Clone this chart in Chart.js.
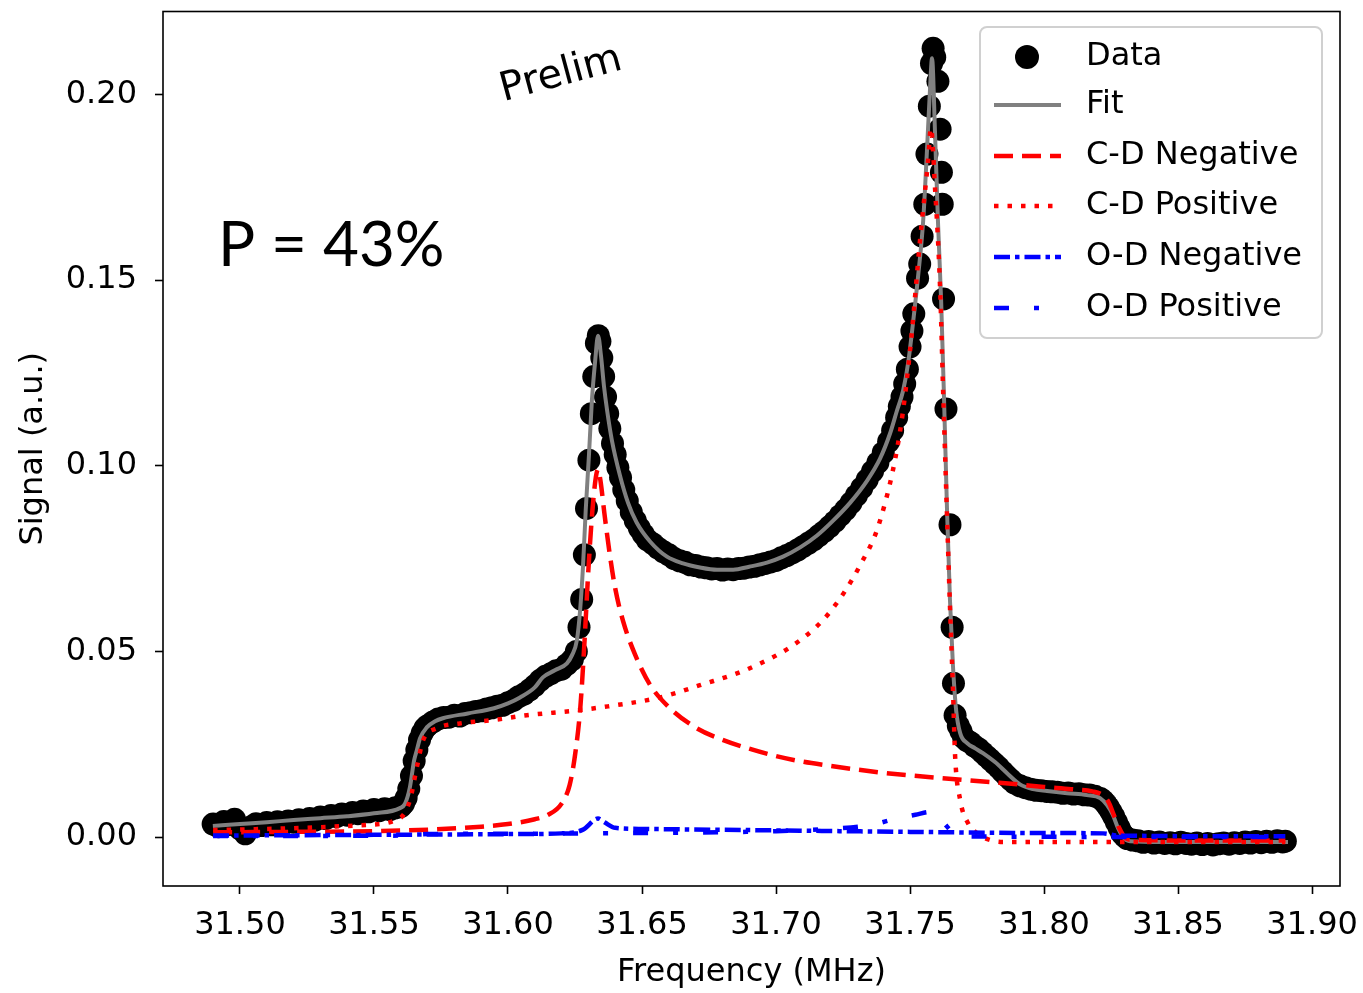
<!DOCTYPE html>
<html><head><meta charset="utf-8">
<script src="https://cdn.jsdelivr.net/npm/chart.js@4.4.1/dist/chart.umd.min.js"></script>
<style>html,body{margin:0;padding:0;background:#fff}#wrap{width:1363px;height:993px;position:relative}</style>
</head><body><div id="wrap"><canvas id="c"></canvas></div>
<script>
// ---- tick labels ----
const xTicks = [31.50, 31.55, 31.60, 31.65, 31.70, 31.75, 31.80, 31.85, 31.90];
const yTicks = [0.00, 0.05, 0.10, 0.15, 0.20];

// ---- series: [frequency (MHz), signal (a.u.)] ----
const dataPoints = [
[31.490,0.0035],[31.492,0.0028],[31.494,0.0042],[31.496,0.0034],[31.498,0.0048],[31.500,0.0022],[31.502,0.0009],[31.504,0.0027],[31.506,0.0036],[31.508,0.0031],
[31.510,0.0039],[31.512,0.0033],[31.514,0.0041],[31.516,0.0036],[31.518,0.0043],[31.520,0.0040],[31.522,0.0047],[31.524,0.0042],[31.526,0.0050],[31.528,0.0046],
[31.530,0.0054],[31.532,0.0050],[31.534,0.0058],[31.536,0.0055],[31.538,0.0062],[31.540,0.0059],[31.542,0.0066],[31.544,0.0063],[31.546,0.0070],[31.548,0.0068],
[31.550,0.0074],[31.552,0.0071],[31.554,0.0076],[31.556,0.0074],[31.558,0.0079],[31.560,0.0082],
[31.561,0.0090],[31.562,0.0105],[31.563,0.0130],[31.564,0.0165],[31.565,0.0205],[31.566,0.0235],[31.567,0.0262],[31.568,0.0280],[31.569,0.0293],[31.570,0.0300],[31.572,0.0310],
[31.574,0.0318],[31.576,0.0322],[31.578,0.0323],[31.580,0.0328],[31.582,0.0326],[31.584,0.0333],[31.586,0.0335],[31.588,0.0338],[31.590,0.0340],[31.592,0.0345],
[31.594,0.0348],[31.596,0.0352],[31.598,0.0355],[31.600,0.0362],[31.602,0.0368],[31.604,0.0378],[31.606,0.0385],[31.608,0.0396],[31.610,0.0408],[31.612,0.0422],
[31.614,0.0433],[31.616,0.0440],[31.618,0.0448],[31.620,0.0452],[31.622,0.0465],[31.624,0.0478],
[31.6255,0.0500],[31.6265,0.0565],[31.6275,0.0640],[31.6285,0.0760],[31.6293,0.0885],[31.6302,0.1015],[31.6311,0.1140],[31.6320,0.1240],[31.6330,0.1330],[31.6337,0.1350],
[31.6343,0.1335],[31.6350,0.1290],[31.6357,0.1240],[31.6364,0.1185],[31.6372,0.1140],[31.6380,0.1100],[31.6390,0.1060],[31.6400,0.1030],[31.6410,0.0995],[31.6420,0.0968],
[31.6432,0.0935],[31.6445,0.0905],[31.6460,0.0875],[31.6475,0.0852],[31.6490,0.0832],[31.6505,0.0815],
[31.652,0.0800],[31.654,0.0790],[31.656,0.0778],[31.658,0.0768],[31.660,0.0760],[31.662,0.0750],[31.664,0.0744],[31.666,0.0740],[31.668,0.0733],[31.670,0.0731],
[31.672,0.0727],[31.674,0.0725],[31.676,0.0722],[31.678,0.0723],[31.680,0.0719],[31.682,0.0722],[31.684,0.0720],[31.686,0.0723],[31.688,0.0724],[31.690,0.0727],
[31.692,0.0729],[31.694,0.0733],[31.696,0.0737],[31.698,0.0741],[31.700,0.0745],[31.702,0.0752],[31.704,0.0758],[31.706,0.0765],[31.708,0.0773],[31.710,0.0782],
[31.712,0.0791],[31.714,0.0800],[31.716,0.0812],[31.718,0.0823],[31.720,0.0836],[31.722,0.0850],[31.724,0.0866],[31.726,0.0882],[31.728,0.0900],[31.730,0.0920],
[31.732,0.0940],[31.734,0.0962],[31.736,0.0985],[31.738,0.1008],[31.740,0.1035],[31.742,0.1065],[31.7435,0.1095],[31.745,0.1130],[31.746,0.1160],[31.747,0.1185],
[31.748,0.1220],[31.749,0.1260],
[31.7500,0.1320],[31.7507,0.1363],[31.7514,0.1409],[31.7528,0.1505],[31.7536,0.1543],[31.7545,0.1618],[31.7555,0.1704],[31.7563,0.1839],[31.7572,0.1968],[31.7580,0.2083],
[31.7586,0.2124],[31.7592,0.2100],[31.7604,0.2035],[31.7612,0.1906],[31.7617,0.1790],[31.7620,0.1704],[31.7625,0.1449],[31.7634,0.1153],[31.7649,0.0841],[31.7657,0.0565],
[31.7662,0.0414],[31.7668,0.0328],
[31.7680,0.0300],[31.7690,0.0285],[31.7700,0.0268],[31.7712,0.0260],[31.7725,0.0255],[31.7740,0.0245],[31.7755,0.0238],[31.7770,0.0228],[31.7785,0.0218],[31.7800,0.0208],
[31.7815,0.0198],[31.7830,0.0188],[31.7845,0.0176],[31.7860,0.0165],[31.7875,0.0155],[31.789,0.0145],[31.791,0.0138],[31.793,0.0133],[31.795,0.0129],[31.797,0.0126],
[31.799,0.0125],[31.801,0.0123],[31.803,0.0122],[31.805,0.0121],[31.807,0.0118],[31.809,0.0119],[31.811,0.0116],[31.813,0.0117],[31.815,0.0114],[31.817,0.0113],
[31.819,0.0110],[31.821,0.0104],[31.822,0.0098],[31.823,0.0090],[31.824,0.0080],[31.825,0.0068],[31.826,0.0055],[31.827,0.0040],[31.828,0.0025],[31.829,0.0010],
[31.830,0.0002],[31.831,-0.0004],[31.833,-0.0008],
[31.835,-0.0010],[31.837,-0.0014],[31.839,-0.0012],[31.841,-0.0016],[31.843,-0.0013],[31.845,-0.0017],[31.847,-0.0015],[31.849,-0.0018],[31.851,-0.0014],[31.853,-0.0017],
[31.855,-0.0019],[31.857,-0.0016],[31.859,-0.0020],[31.861,-0.0017],[31.863,-0.0021],[31.865,-0.0018],[31.867,-0.0016],[31.869,-0.0019],[31.871,-0.0015],[31.873,-0.0017],
[31.875,-0.0013],[31.877,-0.0016],[31.879,-0.0012],[31.881,-0.0015],[31.883,-0.0011],[31.885,-0.0014],[31.887,-0.0010],[31.889,-0.0013],[31.890,-0.0011]
];

const fitPoints = [
[31.4899,0.0030],[31.500,0.0035],[31.510,0.0040],[31.520,0.0046],[31.530,0.0051],[31.540,0.0056],[31.550,0.0064],[31.5597,0.0078],[31.5616,0.0090],[31.5634,0.0134],
[31.565,0.0207],[31.566,0.0234],[31.5672,0.0266],[31.5698,0.0296],[31.5728,0.0312],[31.5757,0.0320],[31.585,0.0333],[31.5948,0.0347],[31.600,0.0360],[31.6045,0.0376],
[31.610,0.0403],[31.613,0.0430],[31.6175,0.0449],[31.622,0.0468],[31.6239,0.0490],[31.6257,0.0530],[31.6269,0.0610],[31.628,0.0730],[31.629,0.0880],[31.6302,0.1027],
[31.6313,0.1175],[31.6325,0.1280],[31.6336,0.1350],[31.6347,0.1296],[31.6358,0.1215],[31.637,0.1148],[31.6388,0.1067],[31.6418,0.0973],[31.6448,0.0900],[31.648,0.0847],
[31.653,0.0796],[31.6593,0.0755],[31.6653,0.0737],[31.6716,0.0726],[31.678,0.0720],[31.684,0.0720],[31.690,0.0728],[31.6966,0.0739],[31.7026,0.0755],[31.709,0.0780],
[31.7153,0.0812],[31.7213,0.0852],[31.7276,0.0900],[31.734,0.0960],[31.7388,0.1019],[31.7425,0.1086],[31.7451,0.1148],[31.7474,0.1202],[31.7493,0.1277],[31.7511,0.1384],
[31.753,0.1510],[31.7549,0.1660],[31.7563,0.1847],[31.7575,0.2022],[31.7582,0.2097],[31.7593,0.1900],[31.7604,0.1660],[31.7616,0.1444],[31.7627,0.1175],[31.7638,0.0879],
[31.7649,0.0637],[31.766,0.0462],[31.7672,0.0341],[31.7687,0.0280],[31.7713,0.0253],[31.7743,0.0239],[31.7772,0.0226],[31.7817,0.0202],[31.7862,0.0172],[31.791,0.0142],
[31.7959,0.0129],[31.8011,0.0124],[31.8086,0.0118],[31.816,0.0113],[31.8209,0.0105],[31.8235,0.0086],[31.8257,0.0059],[31.8276,0.0024],[31.8295,0.0000],[31.8321,-0.0011],
[31.8433,-0.0013],[31.8582,-0.0013],[31.8769,-0.0013],[31.891,-0.0013]
];

const cdNegativePoints = [
[31.490,0.0013],[31.520,0.0014],[31.550,0.0016],[31.570,0.0020],[31.590,0.0028],[31.600,0.0035],[31.610,0.0048],[31.615,0.0060],[31.620,0.0090],[31.623,0.0140],
[31.625,0.0220],[31.627,0.0350],[31.6285,0.0520],[31.630,0.0720],[31.6315,0.0880],[31.6328,0.0970],[31.6336,0.0990],[31.6345,0.0960],[31.636,0.0870],[31.638,0.0760],
[31.640,0.0670],[31.643,0.0580],[31.6475,0.0490],[31.653,0.0410],[31.660,0.0350],[31.670,0.0295],[31.680,0.0262],[31.690,0.0238],[31.700,0.0218],[31.710,0.0203],
[31.720,0.0192],[31.730,0.0182],[31.740,0.0173],[31.750,0.0166],[31.760,0.0160],[31.770,0.0154],[31.780,0.0148],[31.790,0.0142],[31.800,0.0135],[31.810,0.0129],
[31.818,0.0123],[31.822,0.0112],[31.824,0.0095],[31.826,0.0060],[31.828,0.0025],[31.830,0.0000],[31.832,-0.0007],[31.850,-0.0009],[31.870,-0.0009],[31.890,-0.0009]
];

const cdPositivePoints = [
[31.490,0.0019],[31.520,0.0024],[31.545,0.0032],[31.5597,0.0051],[31.5634,0.0099],[31.566,0.0188],[31.5683,0.0260],[31.5735,0.0293],[31.582,0.0306],[31.5944,0.0315],
[31.607,0.0328],[31.6257,0.0341],[31.6373,0.0352],[31.6567,0.0376],[31.6716,0.0409],[31.690,0.0454],[31.709,0.0530],[31.720,0.0605],[31.7313,0.0731],[31.7388,0.0852],
[31.7463,0.1094],[31.7500,0.1310],[31.7537,0.1605],[31.7567,0.1820],[31.7578,0.1909],[31.7593,0.1750],[31.7612,0.1480],[31.7623,0.1210],[31.7649,0.0620],[31.7660,0.0400],
[31.7668,0.0220],[31.7687,0.0100],[31.7716,0.0038],[31.7761,0.0005],[31.7799,-0.0008],[31.785,-0.0013],[31.850,-0.0013],[31.890,-0.0013]
];

const odNegativePoints = [
[31.490,0.0004],[31.550,0.0006],[31.600,0.0008],[31.620,0.0010],[31.628,0.0020],[31.6336,0.0050],[31.636,0.0040],[31.640,0.0025],[31.650,0.0022],[31.700,0.0018],
[31.750,0.0014],[31.800,0.0011],[31.822,0.0010],[31.828,0.0004],[31.890,0.0002]
];

const odPositivePoints = [
[31.490,0.0003],[31.560,0.0004],[31.570,0.0008],[31.600,0.0009],[31.650,0.0011],[31.700,0.0016],[31.720,0.0022],[31.735,0.0032],[31.745,0.0050],[31.752,0.0060],
[31.7575,0.0068],[31.760,0.0062],[31.763,0.0035],[31.766,0.0012],[31.770,0.0002],[31.890,0.0000]
];

const toXY = arr => arr.map(p => ({x: p[0], y: p[1]}));
const FONT = 'DejaVu Sans';

const decorPlugin = {
  id: 'decor',
  afterDatasetsDraw(chart) {
    const ctx = chart.ctx, a = chart.chartArea;
    ctx.save();
    // axes frame
    ctx.strokeStyle = '#000'; ctx.lineWidth = 1.6; ctx.setLineDash([]);
    ctx.strokeRect(a.left, a.top, a.right - a.left, a.bottom - a.top);

    // annotation texts
    ctx.fillStyle = '#000';
    ctx.font = '62px Lato';
    ctx.textBaseline = 'alphabetic'; ctx.textAlign = 'left';
    ctx.fillText('P = 43%', 218, 266);
    ctx.save();
    ctx.translate(561, 75);
    ctx.rotate(-15 * Math.PI / 180);
    ctx.font = '40px "DejaVu Sans"';
    ctx.textAlign = 'center'; ctx.textBaseline = 'middle';
    ctx.fillText('Prelim', 0, 0);
    ctx.restore();

    // legend
    const bx = 980, by = 27, bw = 342, bh = 311, r = 7;
    ctx.beginPath();
    ctx.moveTo(bx + r, by);
    ctx.arcTo(bx + bw, by, bx + bw, by + bh, r);
    ctx.arcTo(bx + bw, by + bh, bx, by + bh, r);
    ctx.arcTo(bx, by + bh, bx, by, r);
    ctx.arcTo(bx, by, bx + bw, by, r);
    ctx.closePath();
    ctx.fillStyle = 'rgba(255,255,255,0.8)';
    ctx.fill();
    ctx.strokeStyle = '#d0d0d0'; ctx.lineWidth = 2;
    ctx.stroke();

    const rows = [57, 105, 156, 206, 257, 308];
    chart.data.datasets.forEach((ds, i) => {
      const cy = rows[i];
      if (i === 0) {
        ctx.beginPath();
        ctx.arc(1027, cy, 12, 0, Math.PI * 2);
        ctx.fillStyle = '#000';
        ctx.fill();
      } else {
        ctx.beginPath();
        ctx.setLineDash(ds.borderDash || []);
        ctx.lineDashOffset = 0;
        ctx.strokeStyle = ds.borderColor;
        ctx.lineWidth = ds.borderWidth;
        ctx.lineCap = 'butt';
        ctx.moveTo(994, cy);
        ctx.lineTo(1061, cy);
        ctx.stroke();
        ctx.setLineDash([]);
      }
      ctx.fillStyle = '#000';
      ctx.font = '32px "DejaVu Sans"';
      ctx.textAlign = 'left'; ctx.textBaseline = 'middle';
      ctx.fillText(ds.label, 1086, cy);
    });
    ctx.restore();
  }
};

new Chart(document.getElementById('c'), {
  type: 'scatter',
  data: {
    datasets: [
      {label: 'Data', data: toXY(dataPoints), showLine: false, pointRadius: 11.5, pointHoverRadius: 11.5,
       backgroundColor: '#000', borderColor: '#000', pointBorderWidth: 0, order: 6},
      {label: 'Fit', data: toXY(fitPoints), showLine: true, borderColor: '#808080', borderWidth: 4,
       pointRadius: 0, cubicInterpolationMode: 'monotone', order: 5},
      {label: 'C-D Negative', data: toXY(cdNegativePoints), showLine: true, borderColor: '#ff0000', borderWidth: 4.5,
       borderDash: [19, 9], pointRadius: 0, cubicInterpolationMode: 'monotone', order: 4},
      {label: 'C-D Positive', data: toXY(cdPositivePoints), showLine: true, borderColor: '#ff0000', borderWidth: 4.5,
       borderDash: [4.5, 9], pointRadius: 0, cubicInterpolationMode: 'monotone', order: 3},
      {label: 'O-D Negative', data: toXY(odNegativePoints), showLine: true, borderColor: '#0000ff', borderWidth: 4.5,
       borderDash: [16, 5, 4.5, 5], pointRadius: 0, cubicInterpolationMode: 'monotone', order: 2},
      {label: 'O-D Positive', data: toXY(odPositivePoints), showLine: true, borderColor: '#0000ff', borderWidth: 4.5,
       borderDash: [15, 25, 5, 25], pointRadius: 0, cubicInterpolationMode: 'monotone', order: 1}
    ]
  },
  options: {
    responsive: true, maintainAspectRatio: false, animation: false, devicePixelRatio: 1,
    events: [],
    layout: {padding: {left: 0, right: 23, top: 10, bottom: 0}},
    plugins: {legend: {display: false}, tooltip: {enabled: false}, title: {display: false}},
    scales: {
      x: {
        type: 'linear', min: 31.4713, max: 31.9104,
        afterBuildTicks: s => { s.ticks = xTicks.map(v => ({value: v})); },
        afterFit: s => { s.height = 107; s.paddingLeft = 0; s.paddingRight = 0; s.paddingTop = 0; s.paddingBottom = 0; },
        ticks: {callback: v => Number(v).toFixed(2), font: {family: FONT, size: 32}, color: '#000',
                padding: 12, maxRotation: 0, minRotation: 0, autoSkip: false},
        grid: {drawOnChartArea: false, drawTicks: true, tickLength: 8, tickColor: '#000', tickWidth: 1.6},
        border: {display: false},
        title: {display: true, text: 'Frequency (MHz)', font: {family: FONT, size: 32}, color: '#000',
                padding: {top: 0, bottom: 1}}
      },
      y: {
        type: 'linear', min: -0.01317, max: 0.2223,
        afterBuildTicks: s => { s.ticks = yTicks.map(v => ({value: v})); },
        afterFit: s => { s.width = 163; s.paddingLeft = 0; s.paddingRight = 0; s.paddingTop = 0; s.paddingBottom = 0; },
        ticks: {callback: v => Number(v).toFixed(2), font: {family: FONT, size: 32}, color: '#000',
                padding: 18, autoSkip: false},
        grid: {drawOnChartArea: false, drawTicks: true, tickLength: 8, tickColor: '#000', tickWidth: 1.6},
        border: {display: false},
        title: {display: true, text: 'Signal (a.u.)', font: {family: FONT, size: 32}, color: '#000',
                padding: {top: 14, bottom: 0}}
      }
    }
  },
  plugins: [decorPlugin]
});
</script>
</body></html>
